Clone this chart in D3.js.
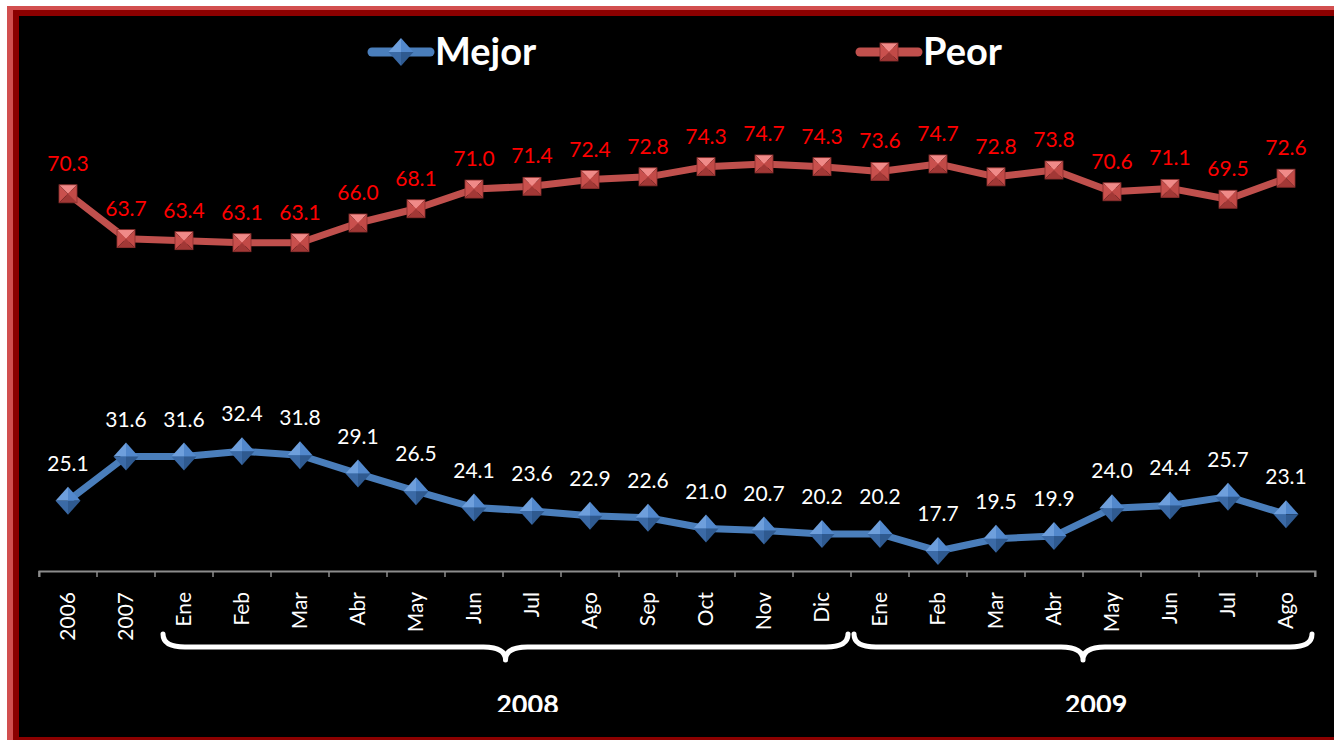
<!DOCTYPE html>
<html>
<head>
<meta charset="utf-8">
<script src="https://cdn.jsdelivr.net/npm/d3@7"></script>
<style>
  body { margin: 0; background: #fff; }
  svg { display: block; font-family: Lato, "Open Sans", sans-serif; }
</style>
</head>
<body>
<svg id="chart" width="1334" height="740"></svg>
<script>
// ---------- data ----------
var categories = ["2006","2007","Ene","Feb","Mar","Abr","May","Jun","Jul","Ago","Sep","Oct","Nov","Dic",
                  "Ene","Feb","Mar","Abr","May","Jun","Jul","Ago"];
var mejor = [25.1,31.6,31.6,32.4,31.8,29.1,26.5,24.1,23.6,22.9,22.6,21.0,20.7,20.2,
             20.2,17.7,19.5,19.9,24.0,24.4,25.7,23.1];
var peor  = [70.3,63.7,63.4,63.1,63.1,66.0,68.1,71.0,71.4,72.4,72.8,74.3,74.7,74.3,
             73.6,74.7,72.8,73.8,70.6,71.1,69.5,72.6];
var seriesNames = ["Mejor","Peor"];
var yearGroups = [
  {label: "2008", first: 2, last: 13},
  {label: "2009", first: 14, last: 21}
];

var svg = d3.select("#chart");

//---------frame---------
svg.append("rect").attr("x",7).attr("y",6).attr("width",1400).attr("height",800).attr("fill","#d24f4f");
svg.append("rect").attr("x",13).attr("y",10).attr("width",1400).attr("height",800).attr("fill","#8b0000");
svg.append("rect").attr("x",19).attr("y",16).attr("width",1400).attr("height",721).attr("fill","#000");

var defs = svg.append("defs");
defs.append("clipPath").attr("id","clipYears")
  .append("rect").attr("x",0).attr("y",0).attr("width",1334).attr("height",712);

//---------scales---------
var idx = d3.range(categories.length);
var xScale = d3.scaleBand().domain(idx).range([39,1315]);
var bw = xScale.bandwidth();
var cx = function(i) { return xScale(i) + bw/2; };
var yScale = d3.scaleLinear().domain([14.75, 90]).range([571, 60.05]);

//---------axis---------
var xAxis = d3.axisBottom(xScale).tickSize(6).tickSizeOuter(6).tickFormat("");
var axisG = svg.append("g").attr("transform","translate(0,571)").call(xAxis);
axisG.select(".domain").attr("stroke","#8c8c8c").attr("stroke-width",2);
// ticks sit on the band boundaries
axisG.selectAll(".tick").remove();
d3.range(categories.length + 1).forEach(function(i) {
  var x = 39 + i*bw;
  axisG.append("line").attr("x1",x).attr("x2",x).attr("y1",0).attr("y2",6)
    .attr("stroke","#8c8c8c").attr("stroke-width",1.5);
});

svg.append("g").selectAll("text")
  .data(categories)
  .enter()
  .append("text")
  .attr("transform", function(d,i) { return "translate(" + cx(i) + ",592) rotate(-90)"; })
  .attr("text-anchor","end")
  .attr("dy","0.35em")
  .attr("fill","#fff")
  .attr("font-size",21)
  .text(function(d) { return d; });

//---------braces---------
var bracePath = function(x0, x1, yTop, yMid, yBot) {
  var xm = (x0 + x1)/2, r = 22;
  return "M" + x0 + "," + yTop +
    " Q" + x0 + "," + yMid + " " + (x0 + r) + "," + yMid +
    " L" + (xm - r) + "," + yMid +
    " Q" + xm + "," + yMid + " " + xm + "," + yBot +
    " Q" + xm + "," + yMid + " " + (xm + r) + "," + yMid +
    " L" + (x1 - r) + "," + yMid +
    " Q" + x1 + "," + yMid + " " + x1 + "," + yTop;
};
yearGroups.forEach(function(g, k) {
  var x0 = xScale(g.first) + (k === 0 ? 8 : 3);
  var x1 = xScale(g.last) + bw - 3;
  svg.append("path")
    .attr("d", bracePath(x0, x1, 634, 647, 660))
    .attr("fill","none").attr("stroke","#fff").attr("stroke-width",5)
    .attr("stroke-linecap","round").attr("stroke-linejoin","round");
  svg.append("text")
    .attr("clip-path","url(#clipYears)")
    .attr("x", (x0 + x1)/2 + (k === 0 ? 22 : 13))
    .attr("y", 714)
    .attr("text-anchor","middle")
    .attr("fill","#fff")
    .attr("font-size",27)
    .attr("font-weight","bold")
    .text(g.label);
});

//---------markers---------
var drawDiamond = function(g, x, y) {
  var w = 12.5, h = 14;
  var faces = [
    [[x,y-h],[x-w,y],[x,y]],
    [[x,y-h],[x+w,y],[x,y]],
    [[x-w,y],[x,y+h],[x,y]],
    [[x+w,y],[x,y+h],[x,y]]
  ];
  var cols = ["#6e9fdc","#5288cc","#3b6aa6","#2f5a90"];
  faces.forEach(function(f, k) {
    g.append("path").attr("d","M" + f.join("L") + "Z").attr("fill",cols[k]);
  });
};
var drawSquare = function(g, x, y) {
  var s = 9;
  var faces = [
    [[x-s,y-s],[x+s,y-s],[x,y]],
    [[x-s,y-s],[x-s,y+s],[x,y]],
    [[x+s,y-s],[x+s,y+s],[x,y]],
    [[x-s,y+s],[x+s,y+s],[x,y]]
  ];
  var cols = ["#f08a88","#c9504d","#c24a47","#a23836"];
  faces.forEach(function(f, k) {
    g.append("path").attr("d","M" + f.join("L") + "Z").attr("fill",cols[k]);
  });
  g.append("rect").attr("x",x-s).attr("y",y-s).attr("width",2*s).attr("height",2*s)
    .attr("fill","none").attr("stroke","#8a2f2d").attr("stroke-width",0.8);
};

//---------lines---------
var line = d3.line()
  .x(function(d,i) { return cx(i); })
  .y(function(d) { return yScale(d); });

var drawSeries = function(values, color, marker, labelColor, labelOffset) {
  svg.append("path")
    .datum(values)
    .attr("d", line)
    .attr("fill","none")
    .attr("stroke",color)
    .attr("stroke-width",7)
    .attr("stroke-linejoin","round");
  var mg = svg.append("g");
  values.forEach(function(v,i) { marker(mg, cx(i), yScale(v)); });
  svg.append("g").selectAll("text")
    .data(values)
    .enter()
    .append("text")
    .attr("x", function(d,i) { return cx(i); })
    .attr("y", function(d) { return yScale(d) - labelOffset; })
    .attr("text-anchor","middle")
    .attr("fill",labelColor)
    .attr("font-size",21)
    .text(function(d) { return d.toFixed(1); });
};
drawSeries(peor, "#c0504d", drawSquare, "#ff0000", 23);
drawSeries(mejor, "#4a7ebb", drawDiamond, "#ffffff", 30);

//---------legend---------
var legend = [
  {name: seriesNames[0], x0: 372, color: "#4a7ebb", marker: drawDiamond},
  {name: seriesNames[1], x0: 860, color: "#c0504d", marker: drawSquare}
];
legend.forEach(function(l) {
  svg.append("line").attr("x1",l.x0).attr("x2",l.x0+58).attr("y1",52).attr("y2",52)
    .attr("stroke",l.color).attr("stroke-width",9).attr("stroke-linecap","round");
  l.marker(svg.append("g"), l.x0 + 29, 52);
  svg.append("text").attr("x",l.x0+63).attr("y",65)
    .attr("fill","#fff").attr("font-size",38).attr("font-weight","bold")
    .text(l.name);
});
</script>
</body>
</html>
